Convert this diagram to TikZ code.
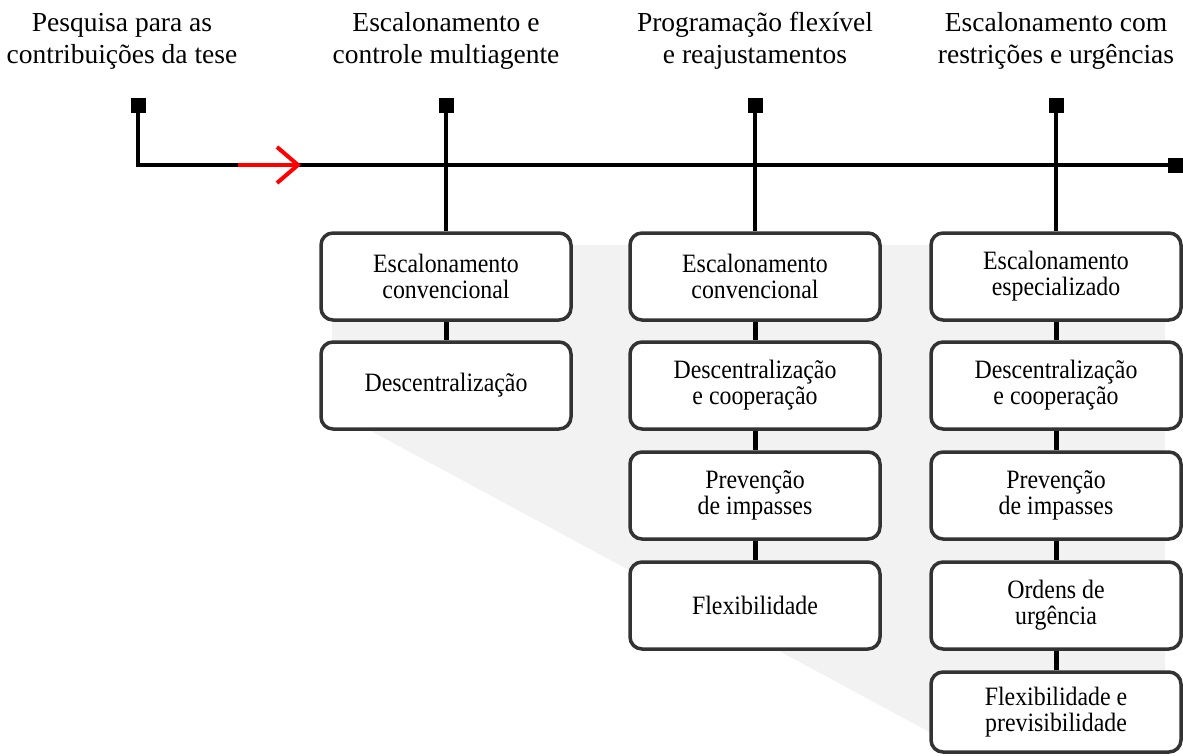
\documentclass[tikz,border=0pt]{standalone}
\usepackage{fontspec}
\setmainfont{Liberation Serif}[FakeStretch=0.9]
\newfontfamily\headfont{Liberation Serif}
\definecolor{boxline}{HTML}{333333}
\definecolor{bandgray}{HTML}{F2F2F2}
\definecolor{flow}{HTML}{FF0000}
\begin{document}
\begin{tikzpicture}[x=1pt,y=-1pt,
  box/.style={draw=boxline, line width=3.5pt, rounded corners=12pt, fill=white,
    minimum width=250pt, minimum height=87pt, inner sep=0pt, align=center,
    font=\fontsize{26.5}{26}\selectfont},
  lastbox/.style={box, minimum height=80pt},
  heading/.style={align=center, inner sep=0pt, font=\headfont\fontsize{27.5}{32}\selectfont},
  axis/.style={line width=4pt, black},
  link/.style={line width=5pt, black},
  marker/.style={fill=black, minimum size=15pt, inner sep=0pt},
  arrowline/.style={line width=4pt, flow}]
\useasboundingbox (0,0) rectangle (1183,755);

% background band behind the columns
\fill[bandgray] (332,245) -- (1165,245) -- (1165,745) -- (935,735) -- (332,410) -- cycle;

% column headings
\node[heading] (h1) at (122,41) {Pesquisa para as\\contribuições da tese};
\node[heading] (h2) at (446,41) {Escalonamento e\\controle multiagente};
\node[heading] (h3) at (755,41) {Programação flexível\\e reajustamentos};
\node[heading] (h4) at (1056,41) {Escalonamento com\\restrições e urgências};

% timeline markers
\node[marker] (m1) at (138,105) {};
\node[marker] (m2) at (446,105) {};
\node[marker] (m3) at (755,105) {};
\node[marker] (m4) at (1056,105) {};
\node[marker] (mend) at (1175,165) {};
\coordinate (corner) at (138,165);

% boxes
\node[box] (a1) at (446,276.5) {Escalonamento\\convencional};
\node[box] (a2) at (446,385.5) {Descentralização};

\node[box] (b1) at (755,276.5) {Escalonamento\\convencional};
\node[box] (b2) at (755,385.5) {Descentralização\\e cooperação};
\node[box] (b3) at (755,495.5) {Prevenção\\de impasses};
\node[box] (b4) at (755,605.5) {Flexibilidade};

\node[box] (c1) at (1056,276.5) {Escalonamento\\especializado};
\node[box] (c2) at (1056,385.5) {Descentralização\\e cooperação};
\node[box] (c3) at (1056,495.5) {Prevenção\\de impasses};
\node[box] (c4) at (1056,605.5) {Ordens de\\urgência};
\node[lastbox] (c5) at (1056,712) {Flexibilidade e\\previsibilidade};

% timeline
\draw[axis] (m1.center) -- (corner) -- (mend.center);
\draw[axis] (m2.center) -- (a1.north);
\draw[axis] (m3.center) -- (b1.north);
\draw[axis] (m4.center) -- (c1.north);

% direction arrow on the timeline
\coordinate (ra) at (238,165);
\coordinate (rb) at (298,165);
\draw[arrowline] (ra) -- (rb);
\draw[arrowline, line join=miter] (277,147) -- (rb) -- (277,183);

% links inside the columns
\draw[link] (a1.south) -- (a2.north);
\draw[link] (b1.south) -- (b2.north);
\draw[link] (b2.south) -- (b3.north);
\draw[link] (b3.south) -- (b4.north);
\draw[link] (c1.south) -- (c2.north);
\draw[link] (c2.south) -- (c3.north);
\draw[link] (c3.south) -- (c4.north);
\draw[link] (c4.south) -- (c5.north);
\end{tikzpicture}
\end{document}
